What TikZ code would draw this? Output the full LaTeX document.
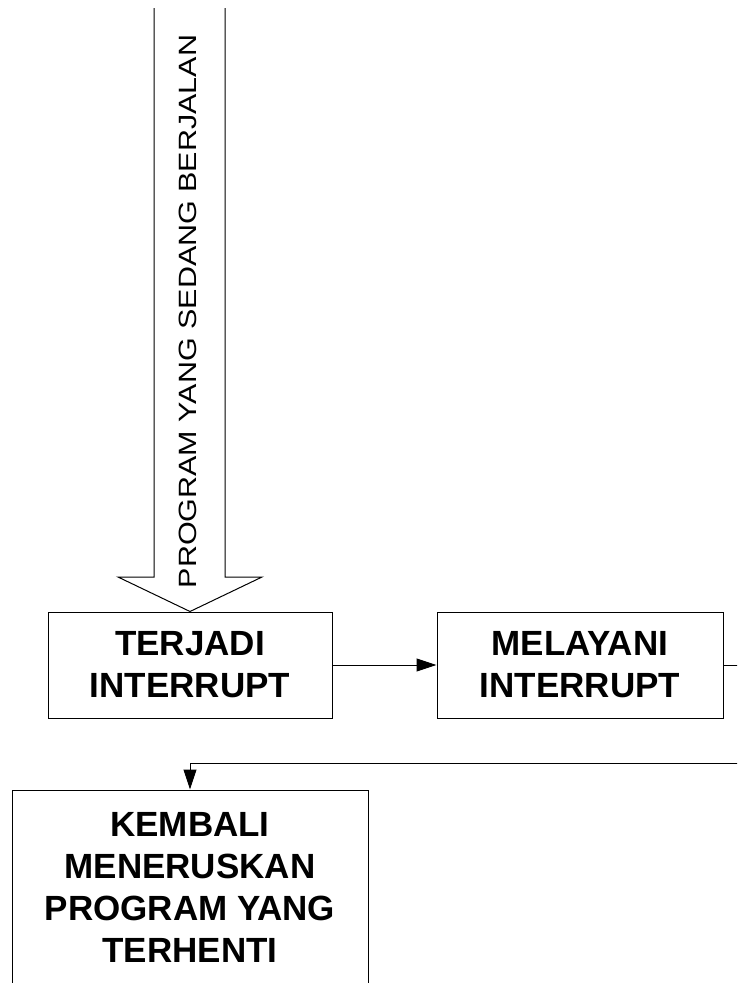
\documentclass[tikz,border=0pt]{standalone}
\usepackage{fontspec}
\setmainfont{Liberation Sans}
\usetikzlibrary{arrows.meta}
\tikzset{
  procbox/.style={draw=black, line width=1pt, rectangle, inner sep=0pt, align=center,
    font=\fontsize{35pt}{42pt}\selectfont\bfseries},
  conn/.style={draw=black, line width=1pt},
  arr/.style={conn, -{Triangle[length=20pt,width=13pt]}},
  hollow/.style={draw=black, line width=1pt, line join=miter},
  vlabel/.style={rotate=90, inner sep=0pt, font=\fontsize{25pt}{30pt}\selectfont}
}
\begin{document}
\begin{tikzpicture}[x=1pt,y=-1pt]
\useasboundingbox (0,0) rectangle (737,983);
\clip (0,0) rectangle (737,983);

\node[procbox, minimum width=284pt, minimum height=106pt] (b1) at (190,665) {TERJADI\\INTERRUPT};
\node[procbox, minimum width=286pt, minimum height=106pt] (b2) at (580,665) {MELAYANI\\INTERRUPT};
\node[procbox, minimum width=356pt, minimum height=195pt] (b3) at (190,887.5) {KEMBALI\\MENERUSKAN\\PROGRAM YANG\\TERHENTI};

% hollow arrow
\coordinate (sl) at (154,8);
\coordinate (sr) at (225,8);
\coordinate (wl) at (118,577);
\coordinate (wr) at (262,577);
\draw[hollow] (sl) -- (154,577) -- (wl) -- (b1.north) -- (wr) -- (225,577) -- (sr);
\node[vlabel] (prog) at (187.5,311.5) {\scalebox{1.22}[1]{PROGRAM YANG SEDANG BERJALAN}};

% connectors
\coordinate (outr) at (745,665);
\coordinate (backr) at (745,763);
\draw[arr] (b1.east) -- (b2.west);
\draw[conn] (b2.east) -- (outr);
\draw[arr] (backr) -| (b3.north);
\end{tikzpicture}
\end{document}
